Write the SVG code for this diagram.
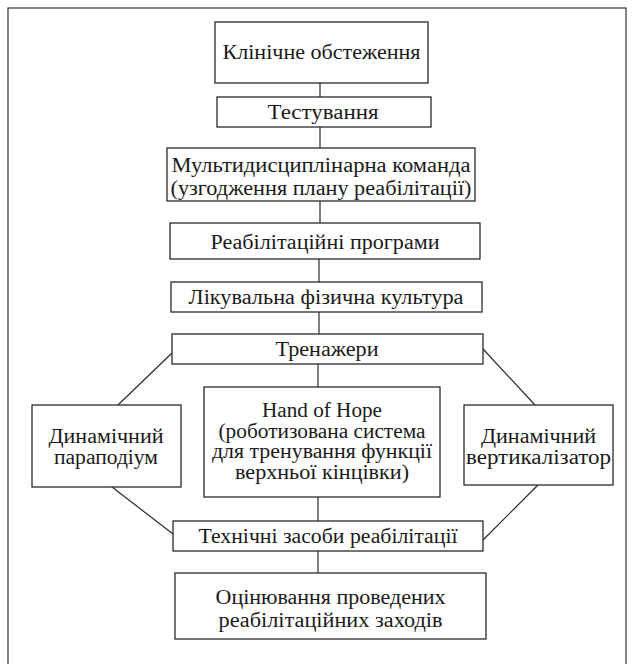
<svg xmlns="http://www.w3.org/2000/svg" width="635" height="664" viewBox="0 0 635 664">
<style>
.box{fill:#fff;stroke:#2a2a2a;stroke-width:1.3}
.frame{fill:none;stroke:#333;stroke-width:1.2}
.lbl{font-family:"Liberation Serif","Times New Roman",serif;font-size:20px;fill:#1a1a1a;text-anchor:middle}
.conn line{stroke:#2a2a2a;stroke-width:1.2}
</style>
<rect x="0" y="0" width="635" height="664" fill="#fff"/>
<rect class="frame" x="8" y="8" width="618" height="700"/>
<g id="connectors" class="conn">
<line x1="320" y1="83" x2="320" y2="97"/>
<line x1="320" y1="127" x2="320" y2="148"/>
<line x1="320" y1="201" x2="320" y2="223"/>
<line x1="319" y1="259" x2="319" y2="282"/>
<line x1="319" y1="312" x2="319" y2="334"/>
<line x1="318" y1="364" x2="318" y2="387"/>
<line x1="318" y1="497" x2="318" y2="521"/>
<line x1="318" y1="551" x2="318" y2="573"/>
<line x1="172" y1="353" x2="118" y2="405"/>
<line x1="112" y1="487" x2="173" y2="534"/>
<line x1="483" y1="349" x2="535" y2="405"/>
<line x1="538" y1="485" x2="483" y2="540"/>
</g>
<g id="n1"><rect class="box" x="215" y="22" width="213" height="61"/><text class="lbl" x="321.5" y="58.5" textLength="198" lengthAdjust="spacingAndGlyphs">Клінічне обстеження</text></g>
<g id="n2"><rect class="box" x="217" y="97" width="214" height="30"/><text class="lbl" x="323" y="118.5" textLength="111" lengthAdjust="spacingAndGlyphs">Тестування</text></g>
<g id="n3"><rect class="box" x="167" y="148" width="308" height="53"/><text class="lbl" x="321" y="171.5" textLength="299" lengthAdjust="spacingAndGlyphs">Мультидисциплінарна команда</text><text class="lbl" x="321" y="194.5" textLength="301" lengthAdjust="spacingAndGlyphs">(узгодження плану реабілітації)</text></g>
<g id="n4"><rect class="box" x="170" y="223" width="310" height="36"/><text class="lbl" x="325" y="248.5" textLength="229" lengthAdjust="spacingAndGlyphs">Реабілітаційні програми</text></g>
<g id="n5"><rect class="box" x="171" y="282" width="311" height="30"/><text class="lbl" x="326" y="303.5" textLength="275" lengthAdjust="spacingAndGlyphs">Лікувальна фізична культура</text></g>
<g id="n6"><rect class="box" x="172" y="334" width="311" height="30"/><text class="lbl" x="327" y="355.5" textLength="103" lengthAdjust="spacingAndGlyphs">Тренажери</text></g>
<g id="n7"><rect class="box" x="204" y="387" width="236" height="110"/><text class="lbl" x="322" y="417" textLength="120" lengthAdjust="spacingAndGlyphs">Hand of Hope</text><text class="lbl" x="322" y="437.5" textLength="207" lengthAdjust="spacingAndGlyphs">(роботизована система</text><text class="lbl" x="322" y="458" textLength="220" lengthAdjust="spacingAndGlyphs">для тренування функції</text><text class="lbl" x="322" y="478.5" textLength="174" lengthAdjust="spacingAndGlyphs">верхньої кінцівки)</text></g>
<g id="n8"><rect class="box" x="32" y="405" width="149" height="82"/><text class="lbl" x="106" y="443" textLength="115" lengthAdjust="spacingAndGlyphs">Динамічний</text><text class="lbl" x="106" y="464" textLength="104" lengthAdjust="spacingAndGlyphs">параподіум</text></g>
<g id="n9"><rect class="box" x="464" y="405" width="149" height="80"/><text class="lbl" x="538.5" y="442.5" textLength="115" lengthAdjust="spacingAndGlyphs">Динамічний</text><text class="lbl" x="538.5" y="464" textLength="145" lengthAdjust="spacingAndGlyphs">вертикалізатор</text></g>
<g id="n10"><rect class="box" x="173" y="521" width="310" height="30"/><text class="lbl" x="328" y="542.5" textLength="259" lengthAdjust="spacingAndGlyphs">Технічні засоби реабілітації</text></g>
<g id="n11"><rect class="box" x="175" y="573" width="311" height="66"/><text class="lbl" x="330.5" y="603.5" textLength="230" lengthAdjust="spacingAndGlyphs">Оцінювання проведених</text><text class="lbl" x="330.5" y="626.5" textLength="224" lengthAdjust="spacingAndGlyphs">реабілітаційних заходів</text></g>
</svg>
